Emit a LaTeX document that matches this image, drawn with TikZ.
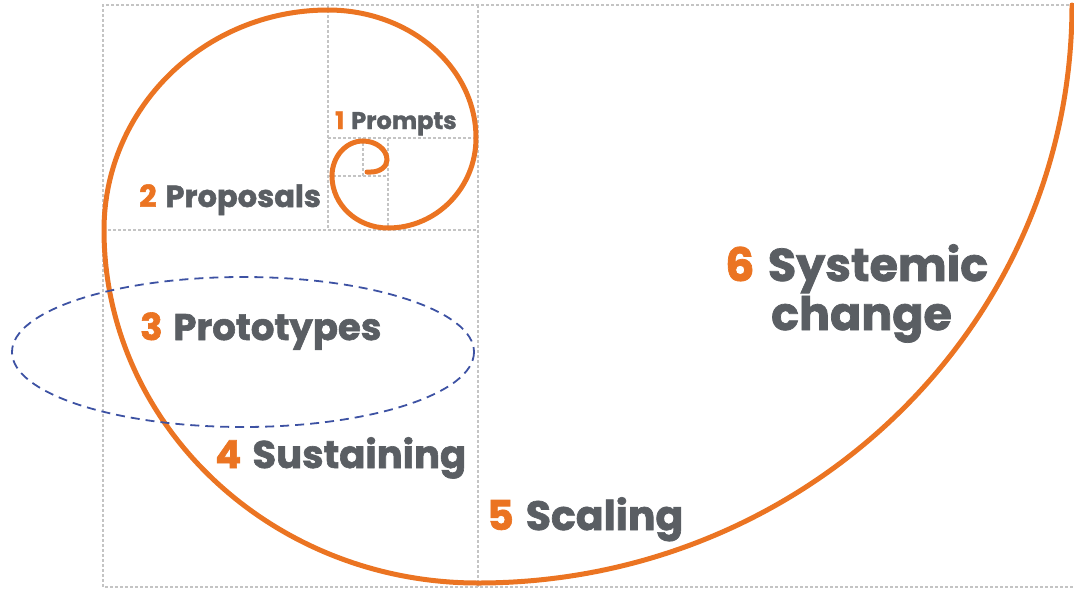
\documentclass[tikz,border=0pt]{standalone}
\usepackage{fontspec}
\setmainfont{Poppins}[BoldFeatures={FakeBold=1.6}]
\definecolor{spiral}{HTML}{EB7422}
\definecolor{labelgray}{HTML}{5A5E63}
\definecolor{gridgray}{HTML}{C4C4C4}
\definecolor{ringblue}{HTML}{3D52A3}
\newcommand{\stagenum}[1]{\textcolor{spiral}{#1}\hspace{0.08em}}
\begin{document}
\begin{tikzpicture}[x=1pt,y=-1pt,
  grid/.style={gridgray,line width=1.6pt,dash pattern=on 3pt off 2pt},
  spiralline/.style={spiral,line width=5pt,line cap=round},
  ring/.style={ringblue,line width=1.8pt,dash pattern=on 9pt off 6pt},
  stage/.style={inner sep=0pt,anchor=base west,text=labelgray}]
\useasboundingbox (0,0) rectangle (1074,590);

% dotted construction squares
\draw[grid] (1074,5) -- (103,5) -- (103,587) -- (1074,587);
\draw[grid] (478,5) -- (478,587);
\draw[grid] (103,230) -- (478,230);
\draw[grid] (328,5) -- (328,230);
\draw[grid] (328,138) -- (478,138);
\draw[grid] (388,138) -- (388,230);
\draw[grid] (328,176) -- (388,176);
\draw[grid] (363,138) -- (363,176);

% golden spiral, quarter arc per square
\draw[spiralline] (1072,5)
  arc[start angle=0,end angle=90,x radius=594,y radius=578]
  arc[start angle=90,end angle=180,x radius=374,y radius=353]
  arc[start angle=180,end angle=270,x radius=224,y radius=220]
  arc[start angle=270,end angle=360,x radius=148,y radius=128]
  arc[start angle=0,end angle=90,x radius=88,y radius=90]
  arc[start angle=90,end angle=180,x radius=56,y radius=52]
  arc[start angle=180,end angle=270,x radius=31,y radius=35]
  arc[start angle=270,end angle=360,x radius=24,y radius=19]
  arc[start angle=0,end angle=90,x radius=16,y radius=12]
  -- ++(-4,0);

% highlighted stage
\draw[ring] (243,352) ellipse[x radius=231,y radius=75];

% stage labels
\node[stage,font=\bfseries\fontsize{24}{24}\selectfont] (s1) at (335,129) {\stagenum{1} Prompts};
\node[stage,font=\bfseries\fontsize{30.5}{30.5}\selectfont] (s2) at (139,207) {\stagenum{2} Proposals};
\node[stage,font=\bfseries\fontsize{37}{37}\selectfont] (s3) at (140,340) {\stagenum{3} Prototypes};
\node[stage,font=\bfseries\fontsize{38.5}{38.5}\selectfont] (s4) at (215,468) {\stagenum{4} Sustaining};
\node[stage,font=\bfseries\fontsize{41}{41}\selectfont] (s5) at (487,530) {\stagenum{5} Scaling};
\node[stage,font=\bfseries\fontsize{46}{46}\selectfont] (s6) at (725,281) {\stagenum{6} Systemic};
\node[stage,font=\bfseries\fontsize{46}{46}\selectfont] (s6b) at (771,330) {change};
\end{tikzpicture}
\end{document}
